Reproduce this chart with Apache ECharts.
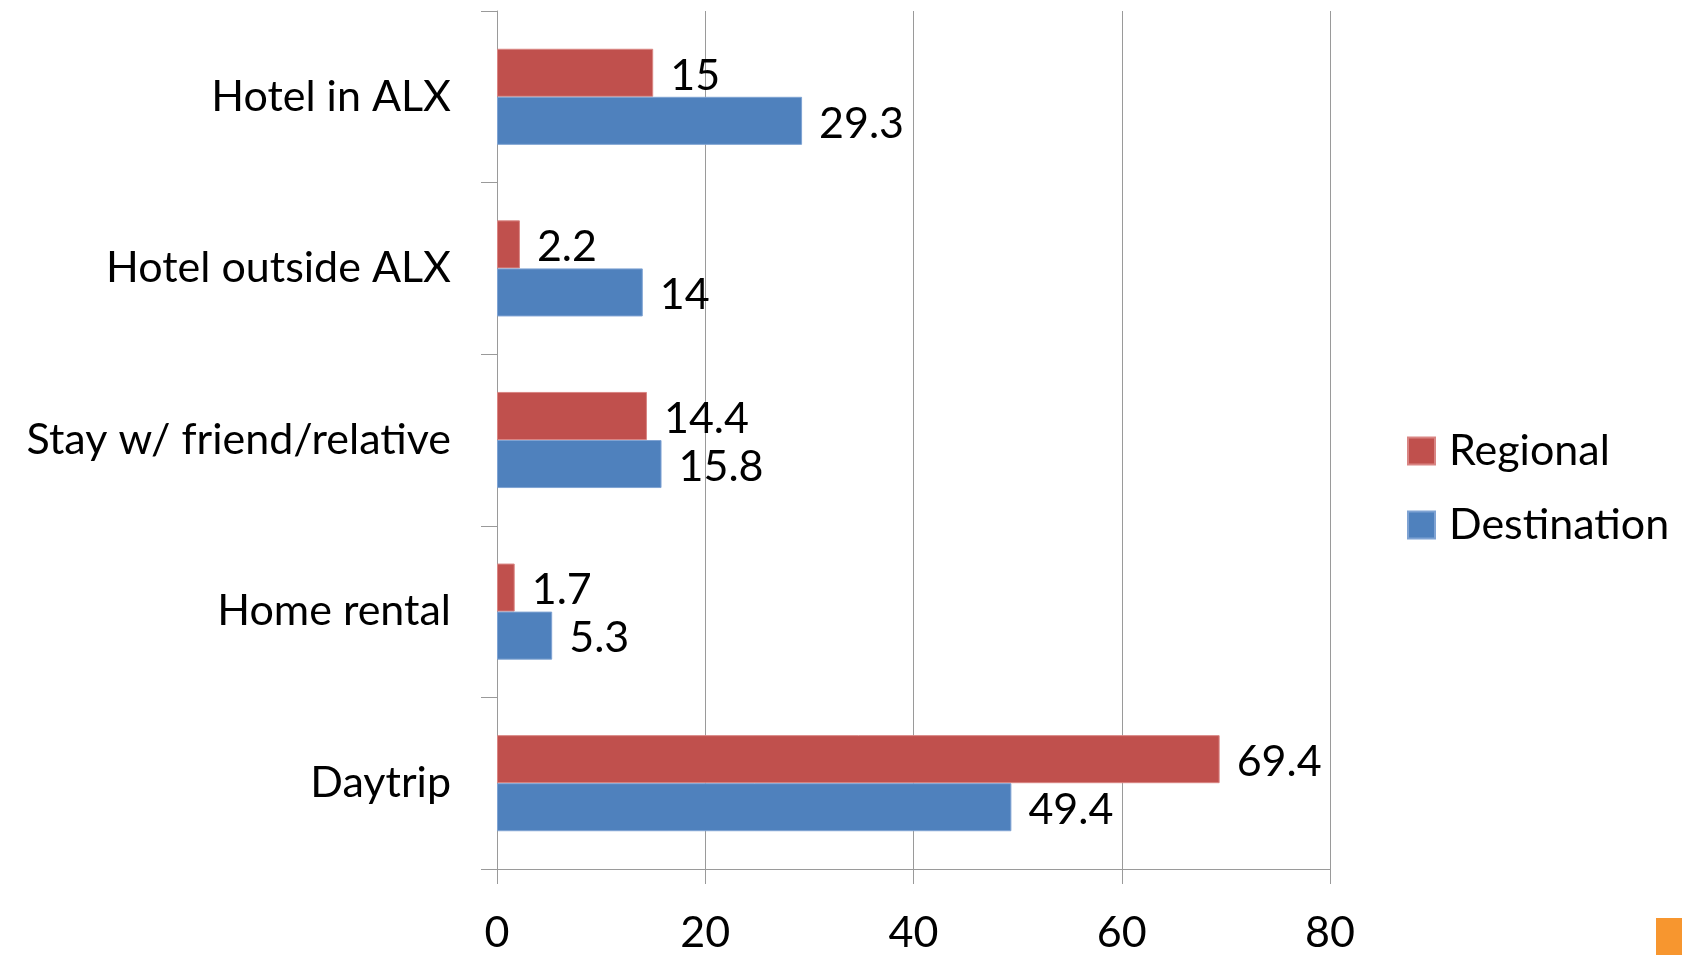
<!DOCTYPE html>
<html>
<head>
<meta charset="utf-8">
<script src="https://cdn.jsdelivr.net/npm/echarts@6/dist/echarts.min.js"></script>
<style>
	html, body { margin: 0; padding: 0; background: #fff; }
	#chart { width: 1682px; height: 955px; }
</style>
</head>
<body>
<div id="chart"></div>
<script>
const categories = ["Daytrip", "Home rental", "Stay w/ friend/relative", "Hotel outside ALX", "Hotel in ALX"];
const regional = [69.4, 1.7, 14.4, 2.2, 15];
const destination = [49.4, 5.3, 15.8, 14, 29.3];

const FONT = "Lato";
const FONT_SIZE = 43;

const chart = echarts.init(document.getElementById("chart"));

const labelStyle = {
	show: true,
	position: "right",
	distance: 17,
	offset: [0, 3],
	color: "#000",
	fontFamily: FONT,
	fontSize: FONT_SIZE
};

option = {
	animation: false,
	legend: {
		orient: "vertical",
		left: 1402,
		top: 424,
		itemWidth: 27,
		itemHeight: 27,
		itemGap: 30,
		icon: "rect",
		data: ["Regional", "Destination"],
		textStyle: {
			color: "#000",
			fontFamily: FONT,
			fontSize: FONT_SIZE,
			lineHeight: 44,
			padding: [0, 0, 0, 9]
		}
	},
	grid: {
		left: 497,
		right: 352,
		top: 11,
		bottom: 79
	},
	xAxis: {
		type: "value",
		min: 0,
		max: 80,
		interval: 20,
		axisLine: { show: true, lineStyle: { color: "#9a9a9a", width: 1 } },
		axisTick: { show: true, length: 15, lineStyle: { color: "#9a9a9a" } },
		splitLine: { lineStyle: { color: "#9a9a9a", width: 1 } },
		axisLabel: {
			color: "#000",
			fontFamily: FONT,
			fontSize: FONT_SIZE,
			margin: 43
		}
	},
	yAxis: {
		type: "category",
		data: categories,
		axisLine: { show: true, lineStyle: { color: "#9a9a9a", width: 1 } },
		axisTick: { show: true, length: 16, lineStyle: { color: "#9a9a9a" } },
		axisLabel: {
			color: "#000",
			fontFamily: FONT,
			fontSize: FONT_SIZE,
			margin: 46
		}
	},
	series: [{
		name: "Regional",
		type: "bar",
		data: regional,
		barGap: "0%",
		barCategoryGap: "44%",
		itemStyle: { color: "#C0504D", borderColor: "#d98583", borderWidth: 1 },
		label: labelStyle
	}, {
		name: "Destination",
		type: "bar",
		data: destination,
		barGap: "0%",
		barCategoryGap: "44%",
		itemStyle: { color: "#4F81BD", borderColor: "#7fa3d3", borderWidth: 1 },
		label: labelStyle
	}],
	graphic: [{
		type: "rect",
		left: 1656,
		top: 918,
		shape: { width: 26, height: 37 },
		style: { fill: "#F7962F" }
	}]
};

chart.setOption(option);
window.onresize = chart.resize;
</script>
</body>
</html>
